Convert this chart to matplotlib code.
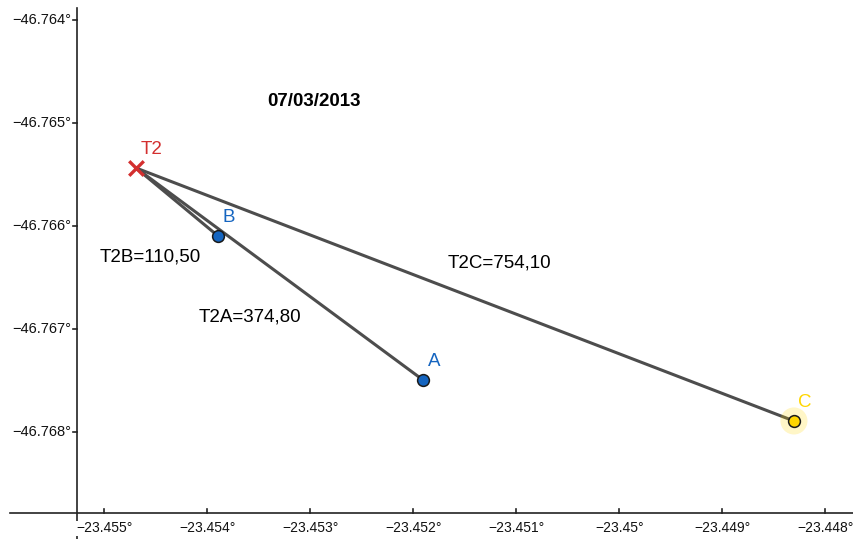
import matplotlib.pyplot as plt

plt.rcParams["font.family"] = ["Liberation Sans", "DejaVu Sans"]

# point coordinates (lon-ish x, lat-ish y)
names = ["T2", "B", "A", "C"]
xs = [-23.454692, -23.453896, -23.451906, -23.448304]
ys = [-46.765437, -46.766097, -46.767495, -46.767893]

segments = [("T2", "B"), ("T2", "A"), ("T2", "C")]
seg_labels = ["T2B=110,50", "T2A=374,80", "T2C=754,10"]
seg_label_pos = [(-23.454556, -46.766299), (-23.453585, -46.766882), (-23.451168, -46.766355)]

x_ticks = [-23.455, -23.454, -23.453, -23.452, -23.451, -23.450, -23.449, -23.448]
x_tick_labels = ["\u221223.455°", "\u221223.454°", "\u221223.453°", "\u221223.452°",
                 "\u221223.451°", "\u221223.45°", "\u221223.449°", "\u221223.448°"]
y_ticks = [-46.764, -46.765, -46.766, -46.767, -46.768]
y_tick_labels = ["\u221246.764°", "\u221246.765°", "\u221246.766°", "\u221246.767°", "\u221246.768°"]

title = "07/03/2013"

xmin, xmax = -23.456013, -23.447721
ymin, ymax = -46.769039, -46.763806
x_axis_y = -46.76879
y_axis_x = -23.455262

fig = plt.figure(figsize=(8.54, 5.39), dpi=100)
ax = fig.add_axes([0, 0, 1, 1])
ax.set_xlim(xmin, xmax)
ax.set_ylim(ymin, ymax)
ax.axis("off")

u = 0.001 / 103  # data units per pixel

# axes lines
ax.plot([xmin + 10 * u, xmax], [x_axis_y, x_axis_y], color="#222222", lw=1.2, zorder=1)
ax.plot([y_axis_x, y_axis_x], [ymin, ymax - 8 * u], color="#222222", lw=1.2, zorder=1)

for t, lab in zip(x_ticks, x_tick_labels):
    ax.plot([t, t], [x_axis_y, x_axis_y + 4 * u], color="#222222", lw=1.2)
    ax.text(t, x_axis_y - 15 * u, lab, ha="center", va="center", fontsize=10,
            color="#111111", bbox=dict(facecolor="white", edgecolor="none", pad=0.5))
for t, lab in zip(y_ticks, y_tick_labels):
    ax.plot([y_axis_x - 4 * u, y_axis_x], [t, t], color="#222222", lw=1.2)
    ax.text(y_axis_x - 6 * u, t, lab, ha="right", va="center", fontsize=10.5, color="#111111")

pts = dict(zip(names, zip(xs, ys)))
for (a, b) in segments:
    ax.plot([pts[a][0], pts[b][0]], [pts[a][1], pts[b][1]], color="#4d4d4d", lw=2.2,
            solid_capstyle="round", zorder=2)

for lab, (lx, ly) in zip(seg_labels, seg_label_pos):
    ax.text(lx, ly, lab, ha="center", va="center", fontsize=13.5, color="black")

ax.text(-23.452960, -46.764796, title, ha="center", va="center", fontsize=13.5,
        fontweight="bold", color="black")

# T2 cross
ax.scatter(xs[0], ys[0], marker="x", s=110, color="#d32f2f", linewidths=2.4, zorder=4)
ax.text(xs[0] + 16 * u, ys[0] + 18 * u, "T2", color="#d32f2f", fontsize=13.5,
        ha="center", va="center")

# blue points
for i in (1, 2):
    ax.scatter(xs[i], ys[i], s=72, color="#1565c0", edgecolors="#1a1a1a",
               linewidths=1.1, zorder=4)
    ax.text(xs[i] + 11 * u, ys[i] + 18 * u, names[i], color="#1565c0", fontsize=13.5,
            ha="center", va="center")

# yellow point with halo
ax.scatter(xs[3], ys[3], s=380, color="#ffd600", alpha=0.22, edgecolors="none", zorder=3)
ax.scatter(xs[3], ys[3], s=72, color="#ffd600", edgecolors="#1a1a1a",
           linewidths=1.1, zorder=4)
ax.text(xs[3] + 11 * u, ys[3] + 18 * u, names[3], color="#ffd600", fontsize=13.5,
        ha="center", va="center")

fig.savefig("out.png", dpi=100)
